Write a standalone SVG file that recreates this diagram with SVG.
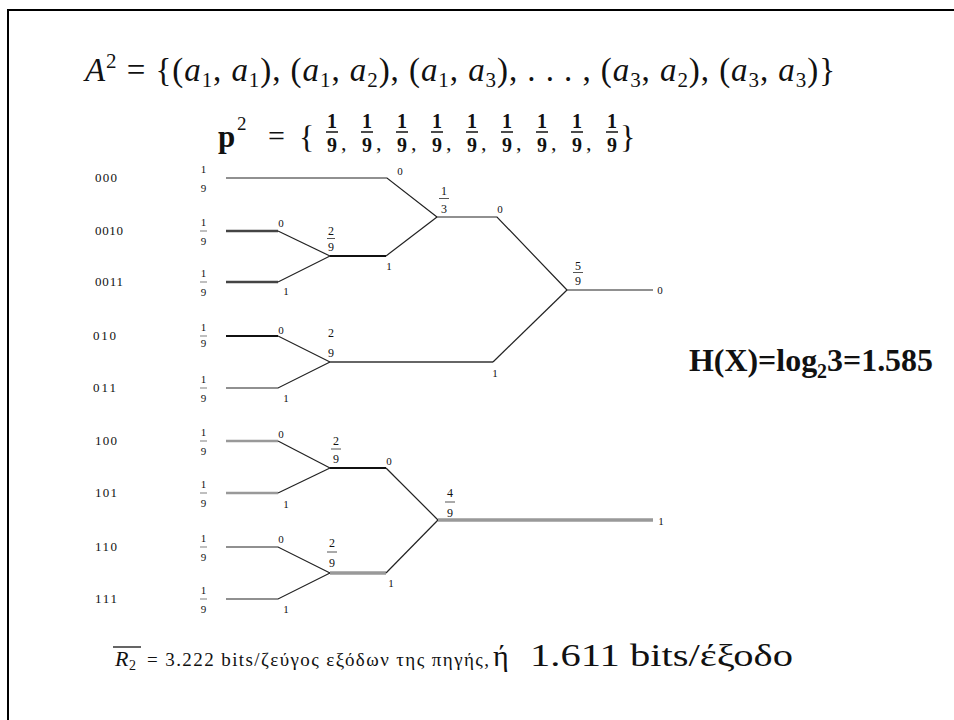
<svg xmlns="http://www.w3.org/2000/svg" width="954" height="720" viewBox="0 0 954 720">
<style>
text{font-family:"Liberation Serif","DejaVu Serif",serif;fill:#111}
.cw{font-size:13px}
.lf{font-size:11px;text-anchor:middle}
.nf{font-size:12px;text-anchor:middle}
.bl{font-size:11px;text-anchor:middle}
.pf{font-size:20px;font-weight:bold;text-anchor:middle}
.i{font-style:italic}
.bar{stroke:#aaa;stroke-width:1.5}
.nbar{stroke:#555;stroke-width:1}
.thin{fill:none;stroke:#222;stroke-width:1.2}
.dk{fill:none;stroke:#444;stroke-width:2.5}
.bk{fill:none;stroke:#111;stroke-width:2}
.gr{fill:none;stroke:#666;stroke-width:2}
.lg{fill:none;stroke:#999;stroke-width:2.5}
.lg3{fill:none;stroke:#999;stroke-width:3.5}
</style>
<g id="frame"><path d="M8,720 V10 H954" fill="none" stroke="#000" stroke-width="2"/></g>
<g id="formula-A2">
<text x="85" y="81" font-size="33" textLength="750" lengthAdjust="spacing"><tspan class="i">A</tspan><tspan font-size="21" dy="-13">2</tspan><tspan dy="13"> = {(</tspan><tspan class="i">a</tspan><tspan font-size="21" dy="6">1</tspan><tspan dy="-6">, </tspan><tspan class="i">a</tspan><tspan font-size="21" dy="6">1</tspan><tspan dy="-6">), (</tspan><tspan class="i">a</tspan><tspan font-size="21" dy="6">1</tspan><tspan dy="-6">, </tspan><tspan class="i">a</tspan><tspan font-size="21" dy="6">2</tspan><tspan dy="-6">), (</tspan><tspan class="i">a</tspan><tspan font-size="21" dy="6">1</tspan><tspan dy="-6">, </tspan><tspan class="i">a</tspan><tspan font-size="21" dy="6">3</tspan><tspan dy="-6">), . . . , (</tspan><tspan class="i">a</tspan><tspan font-size="21" dy="6">3</tspan><tspan dy="-6">, </tspan><tspan class="i">a</tspan><tspan font-size="21" dy="6">2</tspan><tspan dy="-6">), (</tspan><tspan class="i">a</tspan><tspan font-size="21" dy="6">3</tspan><tspan dy="-6">, </tspan><tspan class="i">a</tspan><tspan font-size="21" dy="6">3</tspan><tspan dy="-6">)}</tspan></text>
</g>
<g id="formula-p2">
<text x="218" y="147" font-size="31" font-weight="bold">p</text>
<text x="237" y="130" font-size="19">2</text>
<text x="268" y="146" font-size="30">=</text>
<text x="299" y="148" font-size="32">{</text>
<g>
<text x="332" y="128" class="pf">1</text><line x1="326" y1="132" x2="338" y2="132" stroke="#111" stroke-width="1.5"/><text x="332" y="152" class="pf">9</text><text x="341" y="150" font-size="22">,</text>
<text x="367" y="128" class="pf">1</text><line x1="361" y1="132" x2="373" y2="132" stroke="#111" stroke-width="1.5"/><text x="367" y="152" class="pf">9</text><text x="376" y="150" font-size="22">,</text>
<text x="402" y="128" class="pf">1</text><line x1="396" y1="132" x2="408" y2="132" stroke="#111" stroke-width="1.5"/><text x="402" y="152" class="pf">9</text><text x="411" y="150" font-size="22">,</text>
<text x="437" y="128" class="pf">1</text><line x1="431" y1="132" x2="443" y2="132" stroke="#111" stroke-width="1.5"/><text x="437" y="152" class="pf">9</text><text x="446" y="150" font-size="22">,</text>
<text x="472" y="128" class="pf">1</text><line x1="466" y1="132" x2="478" y2="132" stroke="#111" stroke-width="1.5"/><text x="472" y="152" class="pf">9</text><text x="481" y="150" font-size="22">,</text>
<text x="507" y="128" class="pf">1</text><line x1="501" y1="132" x2="513" y2="132" stroke="#111" stroke-width="1.5"/><text x="507" y="152" class="pf">9</text><text x="516" y="150" font-size="22">,</text>
<text x="542" y="128" class="pf">1</text><line x1="536" y1="132" x2="548" y2="132" stroke="#111" stroke-width="1.5"/><text x="542" y="152" class="pf">9</text><text x="551" y="150" font-size="22">,</text>
<text x="577" y="128" class="pf">1</text><line x1="571" y1="132" x2="583" y2="132" stroke="#111" stroke-width="1.5"/><text x="577" y="152" class="pf">9</text><text x="586" y="150" font-size="22">,</text>
<text x="612" y="128" class="pf">1</text><line x1="606" y1="132" x2="618" y2="132" stroke="#111" stroke-width="1.5"/><text x="612" y="152" class="pf">9</text>
</g>
<text x="620" y="148" font-size="32">}</text>
</g>

<g id="connectors">
<path class="thin" d="M226,178 H387 L437,217"/>
<path class="dk" d="M226,231 H278"/><path class="thin" d="M278,231 L330,256"/>
<path class="dk" d="M226,282 H278"/><path class="thin" d="M278,282 L330,256"/>
<path class="bk" d="M330,256 H386"/><path class="thin" d="M386,256 L437,217"/>
<path class="thin" d="M437,217 H497 L567,290"/>
<path class="thin" stroke-width="1.6" d="M567,290 H653"/>
<path class="bk" d="M226,336 H278"/><path class="thin" d="M278,336 L330,362"/>
<path class="thin" d="M226,388 H278 L330,362"/>
<path class="gr" d="M330,362 H493"/><path class="thin" stroke="#555" d="M493,362 L567,290"/>
<path class="lg" d="M226,441 H278"/><path class="thin" d="M278,441 L330,468"/>
<path class="lg" d="M226,493 H278"/><path class="thin" d="M278,493 L330,468"/>
<path class="bk" stroke="#333" d="M330,468 H386"/><path class="thin" d="M386,468 L438,520"/>
<path class="thin" d="M226,547 H278 L330,573"/>
<path class="thin" d="M226,599 H278 L330,573"/>
<path class="lg3" stroke-width="3" d="M330,573 H386"/><path class="thin" d="M386,573 L438,520"/>
<path class="lg3" d="M438,520 H653"/>
</g>

<g id="leaf-000"><text x="95" y="182" class="cw" textLength="22">000</text><text x="203.5" y="173" class="lf">1</text><text x="203.5" y="192" class="lf">9</text></g>
<g id="leaf-0010"><text x="95" y="235" class="cw" textLength="28">0010</text><text x="203.5" y="226" class="lf">1</text><line class="bar" x1="200" y1="231" x2="207" y2="231"/><text x="203.5" y="245" class="lf">9</text></g>
<g id="leaf-0011"><text x="95" y="286" class="cw" textLength="28">0011</text><text x="203.5" y="277" class="lf">1</text><line class="bar" x1="200" y1="282" x2="207" y2="282"/><text x="203.5" y="296" class="lf">9</text></g>
<g id="leaf-010"><text x="93" y="340" class="cw" textLength="23">010</text><text x="203.5" y="331" class="lf">1</text><line class="bar" x1="200" y1="336" x2="207" y2="336"/><text x="203.5" y="347" class="lf">9</text></g>
<g id="leaf-011"><text x="93" y="392" class="cw" textLength="23">011</text><text x="203.5" y="383" class="lf">1</text><line class="bar" x1="200" y1="388" x2="207" y2="388"/><text x="203.5" y="402" class="lf">9</text></g>
<g id="leaf-100"><text x="95" y="445" class="cw" textLength="22">100</text><text x="203.5" y="436" class="lf">1</text><line class="bar" x1="200" y1="441" x2="207" y2="441"/><text x="203.5" y="455" class="lf">9</text></g>
<g id="leaf-101"><text x="95" y="497" class="cw" textLength="22">101</text><text x="203.5" y="488" class="lf">1</text><line class="bar" x1="200" y1="493" x2="207" y2="493"/><text x="203.5" y="507" class="lf">9</text></g>
<g id="leaf-110"><text x="95" y="551" class="cw" textLength="22">110</text><text x="203.5" y="542" class="lf">1</text><line class="bar" x1="200" y1="547" x2="207" y2="547"/><text x="203.5" y="561" class="lf">9</text></g>
<g id="leaf-111"><text x="95" y="603" class="cw" textLength="22">111</text><text x="203.5" y="594" class="lf">1</text><line class="bar" x1="200" y1="599" x2="207" y2="599"/><text x="203.5" y="613" class="lf">9</text></g>

<g id="branch-labels">
<text x="400" y="175" class="bl">0</text>
<text x="281" y="227" class="bl">0</text>
<text x="286" y="295" class="bl">1</text>
<text x="389" y="270" class="bl">1</text>
<text x="500" y="213" class="bl">0</text>
<text x="660" y="294" class="bl">0</text>
<text x="281" y="334" class="bl">0</text>
<text x="286" y="402" class="bl">1</text>
<text x="495" y="377" class="bl" font-size="10">1</text>
<text x="281" y="438" class="bl">0</text>
<text x="286" y="508" class="bl">1</text>
<text x="389" y="465" class="bl">0</text>
<text x="281" y="543" class="bl">0</text>
<text x="286" y="613" class="bl">1</text>
<text x="391" y="587" class="bl">1</text>
<text x="661" y="525" class="bl">1</text>
</g>

<g id="node-A"><text x="331" y="235" class="nf">2</text><line class="nbar" x1="327" y1="238.5" x2="335" y2="238.5"/><text x="331" y="251" class="nf">9</text></g>
<g id="node-N1"><text x="444" y="195" class="nf" font-size="13">1</text><line class="nbar" x1="439" y1="198.5" x2="449" y2="198.5"/><text x="444" y="213" class="nf" font-size="13">3</text></g>
<g id="node-59"><text x="578" y="270" class="nf">5</text><line class="nbar" x1="573" y1="272.5" x2="583" y2="272.5"/><text x="578" y="285" class="nf">9</text></g>
<g id="node-B"><text x="331" y="337" class="nf">2</text><text x="331" y="357" class="nf">9</text></g>
<g id="node-C"><text x="336" y="445" class="nf">2</text><line class="nbar" x1="331" y1="449" x2="341" y2="449"/><text x="336" y="463" class="nf">9</text></g>
<g id="node-D"><text x="332" y="547" class="nf">2</text><line class="nbar" x1="327" y1="552" x2="337" y2="552"/><text x="332" y="567" class="nf">9</text></g>
<g id="node-49"><text x="450" y="497" class="nf">4</text><line x1="445" y1="502" x2="455" y2="502" stroke="#aaa" stroke-width="2"/><text x="450" y="517" class="nf">9</text></g>

<g id="entropy">
<text x="689" y="371" font-size="32" font-weight="bold" textLength="244" lengthAdjust="spacingAndGlyphs">H(X)=log<tspan font-size="20" dy="7">2</tspan><tspan dy="-7">3=1.585</tspan></text>
</g>

<g id="rate">
<line x1="113" y1="647" x2="141" y2="647" stroke="#111" stroke-width="1.3"/>
<text x="115" y="666" font-size="22" class="i">R</text><text x="129" y="670" font-size="14">2</text>
<text x="147" y="666" font-size="19" textLength="342" lengthAdjust="spacing">= 3.222 bits/ζεύγος εξόδων της πηγής,</text>
<text x="493" y="666" font-size="30">ή</text>
<text x="530" y="666" font-size="31" textLength="263" lengthAdjust="spacingAndGlyphs">1.611 bits/έξοδο</text>
</g>
</svg>
